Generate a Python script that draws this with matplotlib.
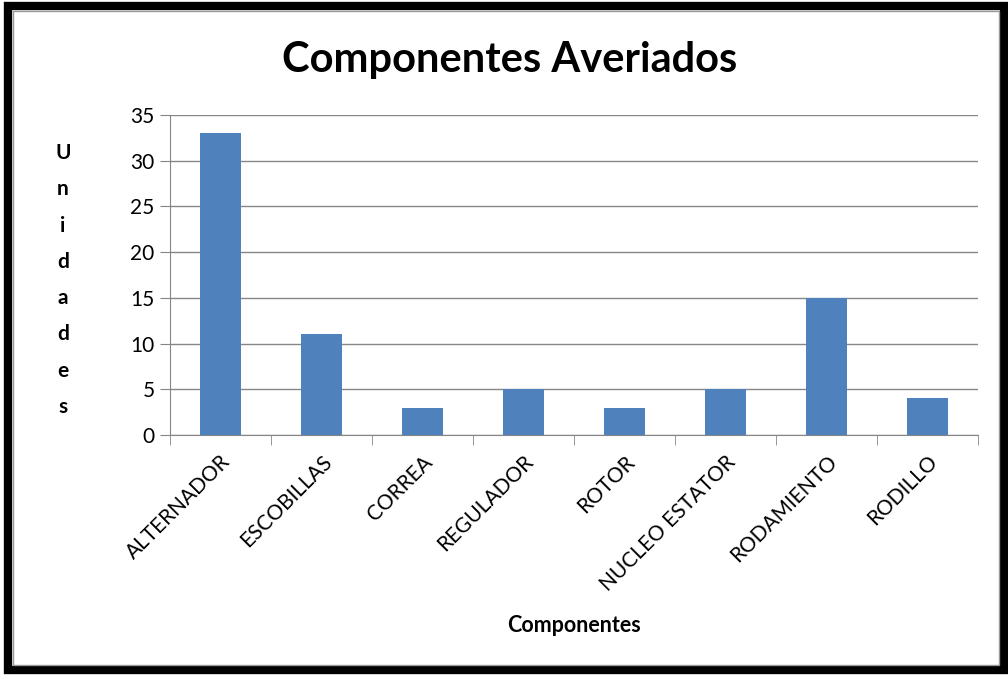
import matplotlib.pyplot as plt
from matplotlib.patches import Rectangle

# Data
componentes = ["ALTERNADOR", "ESCOBILLAS", "CORREA", "REGULADOR", "ROTOR",
               "NUCLEO ESTATOR", "RODAMIENTO", "RODILLO"]
unidades = [33, 11, 3, 5, 3, 5, 15, 4]

plt.rcParams['font.family'] = ['Lato', 'DejaVu Sans']

W, H = 1008, 677
fig = plt.figure(figsize=(W / 100, H / 100), dpi=100)
fig.patch.set_facecolor('white')

ax = fig.add_axes([170 / W, 1 - 435 / H, (978 - 170) / W, (435 - 115) / H])
pos = list(range(len(componentes)))
ax.bar(pos, unidades, width=0.4, color='#4F81BD', zorder=3)

ax.set_xlim(-0.5, len(componentes) - 0.5)
ax.set_ylim(0, 35)
ax.set_yticks(range(0, 36, 5))
ax.tick_params(axis='y', labelsize=15, length=7, color='#868686', pad=4)
ax.set_xticks(pos)
ax.set_xticklabels(componentes, rotation=45, ha='right', rotation_mode='anchor', fontsize=15)
ax.tick_params(axis='x', length=0, pad=12)
ax.set_xticks([p - 0.5 for p in pos] + [len(componentes) - 0.5], minor=True)
ax.tick_params(axis='x', which='minor', length=7, color='#868686')

ax.grid(axis='y', color='#868686', linewidth=1, zorder=0)
for s in ['top', 'right']:
    ax.spines[s].set_visible(False)
for s in ['left', 'bottom']:
    ax.spines[s].set_color('#868686')

fig.text(510 / W, 1 - 60 / H, "Componentes Averiados", ha='center', va='center',
         fontsize=30, fontweight='bold')
fig.text(574 / W, 1 - 626 / H, "Componentes", ha='center', va='center',
         fontsize=15.5, fontweight='bold')
fig.text(63 / W, 1 - 280 / H, "\n".join("Unidades"), ha='center', va='center',
         fontsize=15, fontweight='bold', linespacing=2.02)

# frame
fig.patches.append(Rectangle((8 / W, 7 / H), (W - 12) / W, (H - 13) / H,
                             transform=fig.transFigure, fill=False,
                             edgecolor='black', linewidth=6))
fig.patches.append(Rectangle((13 / W, 12 / H), (W - 22) / W, (H - 23) / H,
                             transform=fig.transFigure, fill=False,
                             edgecolor='#999999', linewidth=1))

fig.savefig('out.png', dpi=100)
